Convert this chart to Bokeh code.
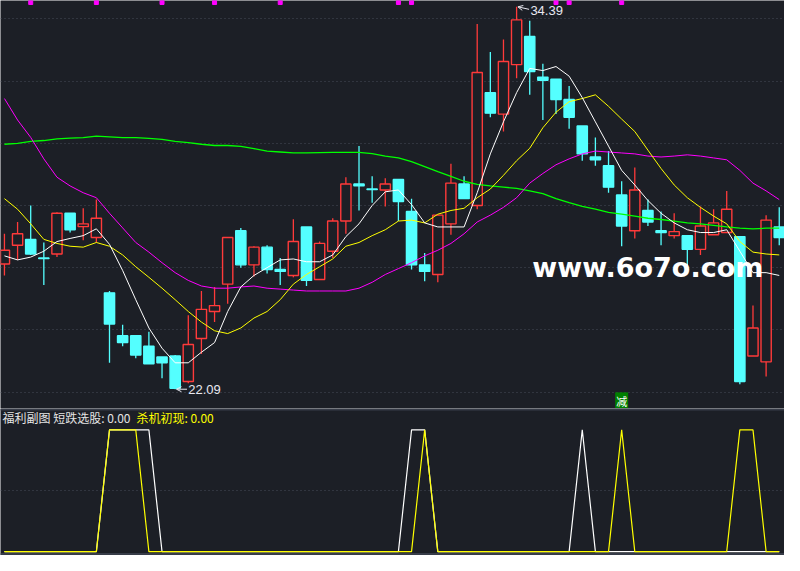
from bokeh.plotting import figure
from bokeh.layouts import column
from bokeh.models import (Range1d, FixedTicker, Grid, Span, Label, Arrow,
                          OpenHead, ColumnDataSource)
from bokeh.embed import file_html
from bokeh.resources import INLINE

# ---------------- data ----------------
opens = [26.12, 26.72, 26.91, 26.31, 26.44, 27.75, 27.32, 26.97, 25.19, 23.81,
         23.81, 23.47, 23.13, 23.16, 22.34, 23.72, 24.59, 25.47, 27.19, 26.09,
         26.66, 25.94, 25.75, 27.31, 25.62, 26.53, 27.50, 28.69, 28.53, 28.50,
         28.84, 27.81, 26.09, 25.78, 27.41, 28.69, 28.00, 31.63, 30.94, 32.53,
         33.44, 32.13, 32.06, 31.41, 30.56, 29.56, 29.28, 28.34, 27.19, 27.84,
         27.19, 27.03, 27.03, 26.59, 27.06, 27.13, 27.00, 23.16, 22.97, 27.31]
closes = [26.56, 27.09, 26.44, 26.29, 27.75, 27.22, 27.41, 27.59, 24.19, 23.59,
          23.19, 22.91, 22.94, 22.12, 23.53, 24.66, 24.78, 26.97, 26.09, 26.66,
          25.94, 25.88, 26.84, 25.59, 26.78, 27.50, 28.69, 28.63, 28.51, 28.69,
          28.13, 26.09, 25.88, 27.69, 28.72, 28.22, 32.28, 30.97, 32.63, 33.97,
          32.31, 32.03, 31.41, 30.84, 29.66, 29.47, 28.59, 27.34, 28.50, 27.47,
          27.13, 27.16, 26.59, 27.34, 27.44, 27.88, 22.34, 24.06, 27.53, 26.97]
highs = [27.09, 27.47, 28.00, 26.81, 27.78, 27.75, 27.91, 28.19, 25.25, 24.16,
         23.81, 23.94, 23.13, 23.19, 24.47, 25.25, 25.38, 26.97, 27.28, 26.69,
         26.72, 26.31, 27.56, 27.31, 26.84, 27.59, 28.91, 29.91, 28.94, 28.88,
         28.84, 28.22, 26.47, 27.69, 29.34, 28.94, 33.84, 32.94, 33.34, 34.39,
         33.94, 32.56, 32.06, 31.84, 30.56, 30.19, 29.75, 28.78, 29.22, 28.19,
         27.81, 27.75, 27.03, 27.97, 27.88, 28.47, 27.00, 24.78, 27.69, 27.94]
lows = [25.75, 26.25, 26.41, 25.44, 26.34, 27.13, 26.88, 26.81, 22.94, 23.47,
        23.09, 22.91, 22.44, 22.09, 22.28, 23.22, 24.25, 24.84, 26.00, 25.72,
        25.81, 25.44, 25.69, 25.41, 25.62, 26.31, 27.09, 27.84, 28.09, 27.97,
        27.50, 25.94, 25.56, 25.53, 27.06, 28.22, 27.88, 30.84, 30.38, 32.09,
        31.56, 30.75, 30.94, 30.47, 29.44, 29.28, 28.41, 26.69, 26.94, 27.34,
        26.72, 26.94, 25.94, 26.41, 27.06, 27.13, 22.25, 23.16, 22.50, 26.72]

ma5 = [26.38, 26.25, 26.34, 26.53, 26.84, 26.94, 27.03, 27.25, 26.75, 25.91,
       24.97, 24.06, 23.41, 22.94, 22.94, 23.28, 23.59, 24.59, 25.38, 25.75,
       26.00, 26.25, 26.28, 26.19, 26.19, 26.41, 27.00, 27.41, 28.00, 28.44,
       28.50, 28.03, 27.44, 27.31, 27.31, 27.31, 28.41, 29.66, 30.69, 31.63,
       32.41, 32.34, 32.47, 32.16, 31.47, 30.69, 29.91, 29.13, 28.66, 28.16,
       27.75, 27.44, 27.22, 27.13, 27.13, 27.22, 26.53, 25.84, 25.84, 25.75]
ma10 = [28.22, 27.88, 27.41, 26.91, 26.78, 26.69, 26.66, 26.81, 26.69, 26.41,
        26.03, 25.69, 25.34, 24.97, 24.59, 24.25, 23.97, 23.88, 24.06, 24.38,
        24.59, 24.97, 25.47, 25.78, 26.03, 26.28, 26.69, 26.81, 27.03, 27.22,
        27.50, 27.53, 27.44, 27.72, 27.84, 27.91, 28.25, 28.53, 28.97, 29.44,
        29.84, 30.50, 31.00, 31.34, 31.44, 31.56, 31.19, 30.78, 30.38, 29.78,
        29.19, 28.66, 28.25, 27.94, 27.66, 27.41, 26.84, 26.50, 26.44, 26.41]
ma20 = [31.44, 30.75, 30.19, 29.50, 28.91, 28.63, 28.41, 28.25, 27.75, 27.28,
        26.81, 26.50, 26.16, 25.84, 25.59, 25.41, 25.34, 25.34, 25.38, 25.41,
        25.34, 25.31, 25.28, 25.25, 25.25, 25.25, 25.25, 25.34, 25.53, 25.78,
        25.97, 26.16, 26.38, 26.56, 26.78, 27.09, 27.47, 27.69, 27.94, 28.25,
        28.72, 29.03, 29.31, 29.50, 29.66, 29.75, 29.72, 29.69, 29.66, 29.59,
        29.56, 29.59, 29.63, 29.59, 29.53, 29.47, 29.13, 28.72, 28.47, 28.19]
ma60 = [29.97, 30.00, 30.06, 30.09, 30.14, 30.17, 30.18, 30.23, 30.21, 30.18,
        30.18, 30.16, 30.13, 30.06, 30.02, 29.97, 29.93, 29.93, 29.90, 29.83,
        29.75, 29.72, 29.69, 29.69, 29.70, 29.71, 29.71, 29.71, 29.67, 29.59,
        29.53, 29.41, 29.25, 29.09, 28.94, 28.78, 28.68, 28.63, 28.59, 28.55,
        28.47, 28.38, 28.22, 28.09, 27.97, 27.88, 27.78, 27.72, 27.66, 27.59,
        27.55, 27.50, 27.44, 27.41, 27.36, 27.31, 27.27, 27.25, 27.27, 27.27]

sig_white = [0, 0, 0, 0, 0, 0, 0, 0, 1, 1, 1, 1, 0, 0, 0, 0, 0, 0, 0, 0,
             0, 0, 0, 0, 0, 0, 0, 0, 0, 0, 0, 1, 1, 0, 0, 0, 0, 0, 0, 0,
             0, 0, 0, 0, 1, 0, 0, 0, 0, 0, 0, 0, 0, 0, 0, 0, 0, 0, 0, 0]
sig_yellow = [0, 0, 0, 0, 0, 0, 0, 0, 1, 1, 1, 0, 0, 0, 0, 0, 0, 0, 0, 0,
              0, 0, 0, 0, 0, 0, 0, 0, 0, 0, 0, 0, 1, 0, 0, 0, 0, 0, 0, 0,
              0, 0, 0, 0, 0, 0, 0, 1, 0, 0, 0, 0, 0, 0, 0, 0, 1, 1, 0, 0]

date_marks = [2, 7, 12, 16, 21, 30, 31, 42, 43, 47]
price_grid = [22, 24, 26, 28, 30, 32, 34]
high_label = 34.39
low_label = 22.09
high_idx = 39
low_idx = 13
signal_idx = 47

# ---------------- styling ----------------
BG = "#1c1f26"
RED = "#ff3a3a"
CYAN = "#54ffff"
GRIDC = "#474c58"
SEP = "#373c48"

n = len(opens)
idx = list(range(n))
up = [c > o for o, c in zip(opens, closes)]
src = ColumnDataSource(dict(
    x=idx, h=highs, l=lows,
    top=[max(o, c) for o, c in zip(opens, closes)],
    bot=[min(o, c) for o, c in zip(opens, closes)],
    color=[RED if u else CYAN for u in up],
    fill=[BG if u else CYAN for u in up],
))

xr = Range1d(-0.3, 59.4)

top = figure(width=784, height=408, x_range=xr, y_range=Range1d(21.47, 34.594),
             x_axis_location=None, y_axis_location=None, output_backend="svg",
             toolbar_location=None, min_border=0, background_fill_color=BG,
             border_fill_color=BG, outline_line_color=None)
top.grid.visible = False
top.add_layout(Grid(dimension=1, ticker=FixedTicker(ticks=price_grid),
                    grid_line_color=GRIDC, grid_line_dash="1 3", grid_line_width=1))

top.segment(x0="x", y0="l", x1="x", y1="h", line_color="color", line_width=1.3, source=src)
top.vbar(x="x", width=0.78, top="top", bottom="bot", fill_color="fill",
         line_color="color", line_width=1.4, source=src)

top.line(idx, ma60, line_color="#00ff00", line_width=1.3)
top.line(idx, ma20, line_color="#ff00ff", line_width=1)
top.line(idx, ma10, line_color="#ffff00", line_width=1)
top.line(idx, ma5, line_color="#ffffff", line_width=1)

top.scatter(x=date_marks, y=[34.53] * len(date_marks), marker="square", size=4,
            fill_color="#ff00ff", line_color="#ff00ff")

# high / low labels
top.add_layout(Arrow(end=OpenHead(size=5, line_color="#e8e8f0", line_width=1),
                     x_start=high_idx + 0.95, y_start=high_label - 0.08,
                     x_end=high_idx + 0.1, y_end=high_label,
                     line_color="#e8e8f0", line_width=1))
top.add_layout(Label(x=high_idx + 1.05, y=high_label - 0.11, text=f"{high_label:.2f}",
                     text_font="Liberation Sans", text_font_size="13px",
                     text_color="#e8e8f0", text_baseline="middle"))
top.add_layout(Arrow(end=OpenHead(size=5, line_color="#e8e8f0", line_width=1),
                     x_start=low_idx + 0.9, y_start=low_label,
                     x_end=low_idx + 0.1, y_end=low_label,
                     line_color="#e8e8f0", line_width=1))
top.add_layout(Label(x=low_idx + 1.0, y=low_label, text=f"{low_label:.2f}",
                     text_font="Liberation Sans", text_font_size="13px",
                     text_color="#e8e8f0", text_baseline="middle"))

# signal badge
top.add_layout(Label(x=signal_idx, y=21.70, text="减", text_align="center",
                     text_baseline="middle", text_font="Noto Sans CJK SC",
                     text_font_size="11px", text_color="white",
                     background_fill_color="#008000", padding=1))

# watermark
top.add_layout(Label(x=40.2, y=26.0, text="www.6o7o.com", text_font="DejaVu Sans",
                     text_font_style="bold", text_font_size="27px",
                     text_color="#ffffff", text_baseline="alphabetic"))

bot = figure(width=784, height=147, x_range=xr, y_range=Range1d(-0.032, 1.176),
             x_axis_location=None, y_axis_location=None, output_backend="svg",
             toolbar_location=None, min_border=0, background_fill_color=BG,
             border_fill_color=BG, outline_line_color=None)
bot.grid.visible = False
bot.add_layout(Grid(dimension=1, ticker=FixedTicker(ticks=[0.5]),
                    grid_line_color=GRIDC, grid_line_dash="1 3", grid_line_width=1))
bot.add_layout(Span(location=1.168, dimension="width", line_color=SEP, line_width=2))
bot.add_layout(Span(location=-0.02, dimension="width", line_color=SEP, line_width=2))

bot.line(idx, sig_white, line_color="#ffffff", line_width=1.2)
bot.line(idx, sig_yellow, line_color="#ffff00", line_width=1.2)

bot.add_layout(Label(x=-0.15, y=1.105, text="福利副图  短跌选股: 0.00",
                     text_font="Noto Sans CJK SC", text_font_size="12px",
                     text_color="#e4e4e4", text_baseline="middle"))
bot.add_layout(Label(x=10.05, y=1.105, text="杀机初现: 0.00",
                     text_font="Noto Sans CJK SC", text_font_size="12px",
                     text_color="#ffff00", text_baseline="middle"))

layout = column(top, bot, spacing=0)
open("out.html", "w").write(file_html(layout, INLINE))
